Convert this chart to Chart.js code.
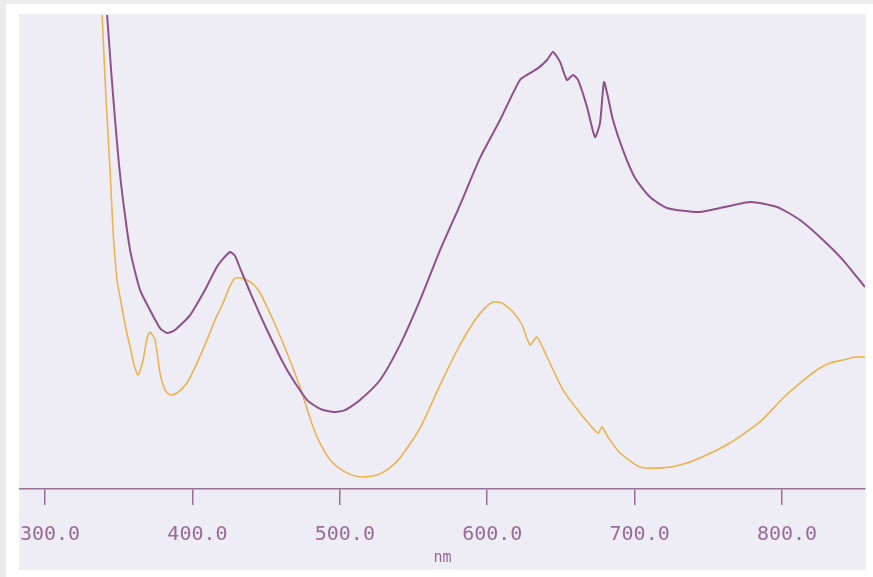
<!DOCTYPE html>
<html>
<head>
<meta charset="utf-8">
<script src="https://cdn.jsdelivr.net/npm/chart.js@4.4.1/dist/chart.umd.min.js"></script>
<style>
  html, body { margin: 0; padding: 0; background: #ffffff; }
  #wrap { width: 873px; height: 577px; position: relative; }
</style>
</head>
<body>
<div id="wrap"><canvas id="c" width="873" height="577"></canvas></div>
<script>
// Wavelength (nm) and absorbance readings, purple trace
const purpleNm = [340.0,342.1,344.8,347.5,350.2,352.9,357.7,364.4,371.2,378.0,382.8,388.2,398.4,408.5,417.4,425.5,428.9,432.3,439.1,450.6,464.2,477.7,486.6,495.4,503.5,513.7,527.3,540.8,554.4,568.0,581.5,595.1,608.7,622.2,629.0,634.5,640.6,644.6,649.4,654.1,658.2,661.6,667.7,673.1,676.5,679.2,681.9,685.3,692.1,700.3,710.4,722.0,744.3,778.3,796.6,812.2,827.8,841.4,856.3];
const purpleAbs = [2.148,2.000,1.768,1.557,1.367,1.219,1.008,0.840,0.755,0.679,0.658,0.671,0.734,0.840,0.945,1.000,0.983,0.932,0.831,0.671,0.502,0.376,0.338,0.325,0.333,0.376,0.460,0.608,0.797,1.008,1.198,1.397,1.557,1.726,1.755,1.776,1.810,1.844,1.802,1.726,1.747,1.726,1.612,1.485,1.544,1.717,1.654,1.557,1.430,1.312,1.232,1.186,1.169,1.211,1.190,1.135,1.051,0.966,0.852];

// Wavelength (nm) and absorbance readings, orange trace
const orangeNm = [337.3,338.7,341.4,344.1,346.1,348.8,350.9,354.3,357.7,360.4,363.1,366.5,369.2,371.2,374.6,378.0,381.4,384.8,389.5,396.3,403.1,409.9,415.3,420.8,425.5,428.9,433.0,437.0,441.8,445.9,454.7,464.2,473.0,481.8,487.9,494.7,503.5,510.3,517.1,525.2,532.7,540.8,554.4,568.0,581.5,591.7,598.5,603.9,610.0,617.5,623.6,629.0,633.7,640.6,651.4,663.0,675.1,677.9,681.9,690.1,703.6,719.2,730.8,744.3,764.7,785.0,800.7,812.2,823.7,832.5,841.4,849.5,856.3];
const orangeAbs = [2.148,2.000,1.641,1.346,1.093,0.882,0.810,0.692,0.599,0.523,0.481,0.544,0.637,0.662,0.629,0.489,0.418,0.397,0.405,0.447,0.532,0.629,0.713,0.785,0.857,0.890,0.890,0.882,0.861,0.827,0.713,0.574,0.430,0.262,0.177,0.114,0.072,0.055,0.051,0.059,0.084,0.131,0.257,0.439,0.608,0.713,0.764,0.789,0.785,0.747,0.692,0.608,0.641,0.557,0.418,0.321,0.236,0.262,0.219,0.152,0.093,0.089,0.101,0.131,0.194,0.283,0.384,0.447,0.502,0.532,0.544,0.557,0.557];

// X axis tick values
const xTicks = [300, 400, 500, 600, 700, 800];
const xTitle = 'nm';

const toPts = (xs, ys) => xs.map((x, i) => ({ x: x, y: ys[i] }));

const axisColor = '#9a7096';
const labelColor = '#9a6a98';

const bgPlugin = {
  id: 'bg',
  beforeDraw(chart) {
    const ctx = chart.ctx;
    ctx.save();
    ctx.fillStyle = '#ffffff';
    ctx.fillRect(0, 0, chart.width, chart.height);
    ctx.fillStyle = '#ebeaec';
    ctx.fillRect(0, 0, 6, chart.height);
    ctx.fillRect(0, 0, chart.width, 4);
    ctx.fillStyle = '#eeedf6';
    ctx.fillRect(19, 14, 847, 556);
    ctx.restore();
  }
};

new Chart(document.getElementById('c'), {
  type: 'line',
  data: {
    datasets: [
      {
        label: 'purple',
        data: toPts(purpleNm, purpleAbs),
        borderColor: '#8e5088',
        borderWidth: 2,
        pointRadius: 0,
        tension: 0.2,
        fill: false
      },
      {
        label: 'orange',
        data: toPts(orangeNm, orangeAbs),
        borderColor: '#ebb24e',
        borderWidth: 1.6,
        pointRadius: 0,
        tension: 0.2,
        fill: false
      }
    ]
  },
  options: {
    responsive: false,
    animation: false,
    devicePixelRatio: 1,
    layout: { padding: { left: 20, right: 8, top: 15, bottom: 0 } },
    plugins: { legend: { display: false }, tooltip: { enabled: false } },
    scales: {
      x: {
        type: 'linear',
        min: 283,
        max: 856.3,
        afterBuildTicks(scale) { scale.ticks = xTicks.map(v => ({ value: v })); },
        afterFit(scale) {
          scale.height = 88;
          scale.paddingLeft = 0;
          scale.paddingRight = 0;
        },
        ticks: {
          color: labelColor,
          font: { family: 'DejaVu Sans Mono', size: 20 },
          padding: 18,
          labelOffset: 5,
          maxRotation: 0,
          autoSkip: false,
          callback: v => v.toFixed(1)
        },
        grid: {
          drawOnChartArea: false,
          drawTicks: true,
          tickLength: 16,
          color: axisColor,
          lineWidth: 1.5
        },
        border: { display: true, color: axisColor, width: 1.5 },
        title: {
          display: true,
          text: xTitle,
          color: labelColor,
          font: { family: 'DejaVu Sans Mono', size: 15 },
          padding: { top: 0, bottom: 10 }
        }
      },
      y: {
        display: false,
        min: 0,
        max: 2.0
      }
    }
  },
  plugins: [bgPlugin]
});
</script>
</body>
</html>
